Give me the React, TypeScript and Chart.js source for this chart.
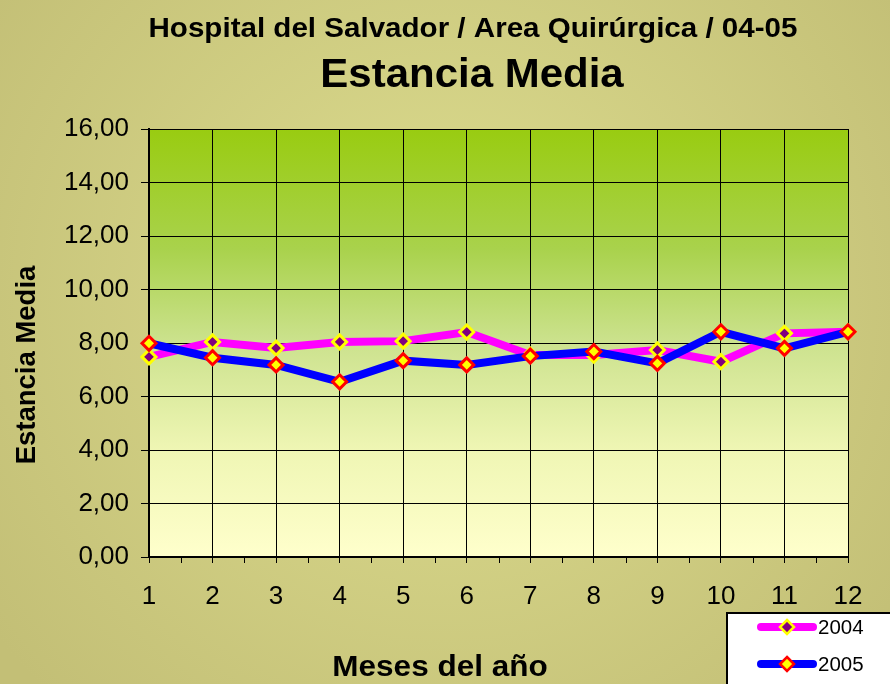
import React, { useEffect, useRef } from "react";
import { Chart, registerables } from "chart.js";
Chart.register(...registerables);

const months = ["1", "2", "3", "4", "5", "6", "7", "8", "9", "10", "11", "12"];
const values2004 = [7.48, 8.04, 7.81, 8.04, 8.07, 8.41, 7.55, 7.55, 7.74, 7.3, 8.36, 8.42];
const values2005 = [7.99, 7.45, 7.18, 6.55, 7.34, 7.18, 7.51, 7.68, 7.24, 8.42, 7.8, 8.42];
const seriesNames = ["2004", "2005"];
const titleLine1 = "Hospital del Salvador / Area Quirúrgica / 04-05";
const titleLine2 = "Estancia Media";
const yTitle = "Estancia Media";
const xTitle = "Meses del año";
const yMin = 0;
const yMax = 16;
const yStep = 2;

const FONT = "'Liberation Sans', Arial, sans-serif";

function stretchText(ctx: any, text: string, x: number, y: number, sx: number) {
  ctx.save();
  ctx.translate(x, y);
  ctx.scale(sx, 1);
  ctx.fillText(text, 0, 0);
  ctx.restore();
}

const decorPlugin = {
  id: "decor",
  beforeDraw(chart: any) {
    const { ctx, width, height, chartArea } = chart;
    ctx.save();
    const rg = ctx.createRadialGradient(445, 300, 20, 445, 300, 560);
    rg.addColorStop(0, "#dcdc8e");
    rg.addColorStop(1, "#c3bf76");
    ctx.fillStyle = rg;
    ctx.fillRect(0, 0, width, height);
    const g = ctx.createLinearGradient(0, chartArea.top, 0, chartArea.bottom);
    g.addColorStop(0, "#99cc11");
    g.addColorStop(0.28, "#a9d24c");
    g.addColorStop(0.5, "#cce28e");
    g.addColorStop(0.75, "#eff6b4");
    g.addColorStop(1, "#ffffcc");
    ctx.fillStyle = g;
    ctx.fillRect(chartArea.left, chartArea.top, chartArea.right - chartArea.left, chartArea.bottom - chartArea.top);
    ctx.restore();
  },
  afterDraw(chart: any) {
    const { ctx, chartArea } = chart;
    const xs = chart.scales.x;
    ctx.save();
    // minor ticks between months
    ctx.strokeStyle = "#000";
    ctx.lineWidth = 1;
    for (let i = 0; i < months.length - 1; i++) {
      const x = Math.round((xs.getPixelForValue(i) + xs.getPixelForValue(i + 1)) / 2) + 0.5;
      ctx.beginPath();
      ctx.moveTo(x, chartArea.bottom);
      ctx.lineTo(x, chartArea.bottom + 6);
      ctx.stroke();
    }
    // titles
    ctx.fillStyle = "#000";
    ctx.textAlign = "center";
    ctx.textBaseline = "middle";
    ctx.font = `bold 27.5px ${FONT}`;
    stretchText(ctx, titleLine1, 473, 29, 1.075);
    ctx.font = `bold 40px ${FONT}`;
    stretchText(ctx, titleLine2, 472, 76, 1.05);
    ctx.font = `bold 30px ${FONT}`;
    stretchText(ctx, xTitle, 440, 668, 1.05);
    ctx.save();
    ctx.translate(27, 365);
    ctx.rotate(-Math.PI / 2);
    ctx.font = `bold 27.5px ${FONT}`;
    ctx.fillText(yTitle, 0, 0);
    ctx.restore();
    // legend
    ctx.fillStyle = "#ffffff";
    ctx.fillRect(727, 613, 170, 80);
    ctx.strokeStyle = "#000";
    ctx.lineWidth = 2;
    ctx.strokeRect(727, 613, 170, 80);
    const ds = chart.data.datasets;
    const rows = [627, 664];
    [0, 1].forEach((k) => {
      const d = ds[k];
      const y = rows[k];
      ctx.strokeStyle = d.borderColor;
      ctx.lineWidth = 8;
      ctx.lineCap = "round";
      ctx.beginPath();
      ctx.moveTo(761, y);
      ctx.lineTo(813, y);
      ctx.stroke();
      ctx.beginPath();
      const r = 7;
      const cx = 787;
      ctx.moveTo(cx, y - r);
      ctx.lineTo(cx + r, y);
      ctx.lineTo(cx, y + r);
      ctx.lineTo(cx - r, y);
      ctx.closePath();
      ctx.fillStyle = d.pointBackgroundColor;
      ctx.fill();
      ctx.strokeStyle = d.pointBorderColor;
      ctx.lineWidth = 2.5;
      ctx.lineCap = "butt";
      ctx.stroke();
      ctx.fillStyle = "#000";
      ctx.textAlign = "left";
      ctx.font = `19.5px ${FONT}`;
      stretchText(ctx, d.label, 818, y + 2, 1.05);
    });
    ctx.restore();
  },
};

export default function App() {
  const ref = useRef<HTMLCanvasElement>(null);
  useEffect(() => {
    document.body.style.margin = "0";
    const chart = new Chart(ref.current!, {
      type: "line",
      data: {
        labels: months,
        datasets: [
          {
            label: seriesNames[0],
            data: values2004,
            borderColor: "#ff00ff",
            backgroundColor: "#ff00ff",
            borderWidth: 8,
            pointStyle: "rectRot",
            pointRadius: 7,
            pointBorderWidth: 3,
            pointBackgroundColor: "#800080",
            pointBorderColor: "#ffff00",
            tension: 0,
            order: 2,
          },
          {
            label: seriesNames[1],
            data: values2005,
            borderColor: "#0000ff",
            backgroundColor: "#0000ff",
            borderWidth: 8,
            pointStyle: "rectRot",
            pointRadius: 7,
            pointBorderWidth: 3,
            pointBackgroundColor: "#ffff00",
            pointBorderColor: "#ff0000",
            tension: 0,
            order: 1,
          },
        ],
      },
      options: {
        responsive: false,
        animation: false,
        devicePixelRatio: 1,
        layout: { padding: { left: 0, top: 129, right: 42, bottom: 0 } },
        plugins: {
          legend: { display: false },
          title: { display: false },
          tooltip: { enabled: false },
        },
        scales: {
          x: {
            type: "category",
            offset: false,
            grid: { color: "#000", lineWidth: 1, drawTicks: true, tickLength: 6, tickColor: "#000" },
            border: { color: "#000", width: 2 },
            ticks: { color: "#000", font: { family: FONT, size: 26 }, padding: 18, maxRotation: 0, autoSkip: false },
            afterFit: (s: any) => {
              s.height = 127;
            },
          },
          y: {
            min: yMin,
            max: yMax,
            grid: { color: "#000", lineWidth: 1, drawTicks: true, tickLength: 8, tickColor: "#000" },
            border: { color: "#000", width: 2 },
            ticks: {
              stepSize: yStep,
              color: "#000",
              padding: 12,
              font: { family: FONT, size: 26 },
              callback: (v: any) => Number(v).toFixed(2).replace(".", ","),
            },
            afterFit: (s: any) => {
              s.width = 149;
            },
          },
        },
      },
      plugins: [decorPlugin],
    });
    return () => chart.destroy();
  }, []);
  return (
    <div style={{ position: "fixed", left: 0, top: 0, width: 890, height: 684 }}>
      <canvas ref={ref} width={890} height={684} style={{ width: 890, height: 684 }} />
    </div>
  );
}
